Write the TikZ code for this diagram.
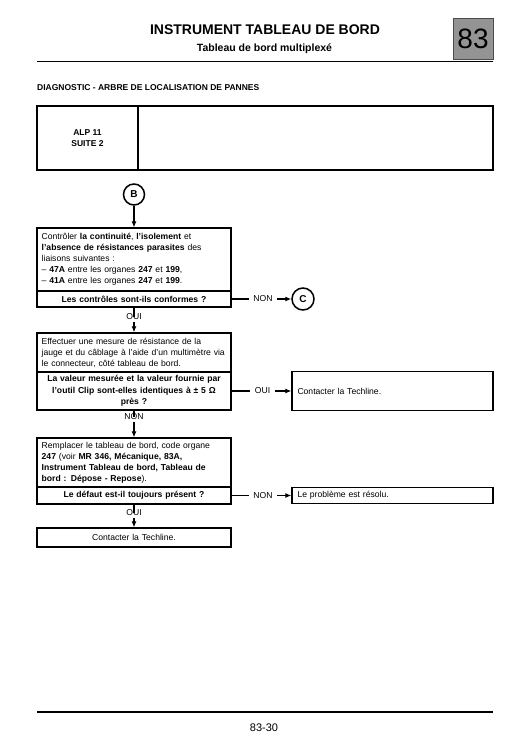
\documentclass[tikz,border=0pt]{standalone}
\usepackage{fontspec}
\setmainfont{Liberation Sans}
\usetikzlibrary{arrows.meta}
\begin{document}
\begin{tikzpicture}[x=1pt,y=-1pt,
  arr/.style={-{Latex[length=6pt,width=5pt]}, line width=1.1pt},
  link/.style={line width=1.1pt},
  boxa/.style={draw, line width=1.3pt, inner xsep=4.7pt, inner ysep=1.5pt, text width=184.6pt, align=left, font=\fontsize{8.6}{11}\selectfont},
  boxq/.style={boxa, align=center, font=\fontsize{8.6}{11.3}\selectfont\bfseries},
  boxr/.style={draw, line width=1.3pt, inner xsep=5.5pt, inner ysep=1.5pt, text width=190pt, align=left, font=\fontsize{8.6}{11}\selectfont},
  lab/.style={inner xsep=4.5pt, inner ysep=1.5pt, font=\fontsize{8.6}{11}\selectfont},
  rond/.style={draw, circle, line width=1.5pt, inner sep=0pt, font=\fontsize{10}{12}\selectfont\bfseries},
]
\useasboundingbox (0,0) rectangle (530,750);
\fill[white] (0,0) rectangle (530,750);

% header
\node[font=\fontsize{14}{16}\selectfont\bfseries] (title) at (265,30) {INSTRUMENT TABLEAU DE BORD};
\node[font=\fontsize{10.5}{12}\selectfont\bfseries] (subtitle) at (264.5,49) {Tableau de bord multiplexé};
\node[draw=black!70, fill=black!42, line width=0.8pt, minimum width=40pt, minimum height=41pt, inner sep=0pt, font=\fontsize{28}{30}\selectfont] (num) at (473,38.5) {83};
\draw[line width=1.7pt] (37,61.5) coordinate (hl) -- (493,61.5) coordinate (hr);
\node[anchor=west, inner sep=0pt, font=\fontsize{8.5}{10}\selectfont\bfseries] (diag) at (37,88) {DIAGNOSTIC - ARBRE DE LOCALISATION DE PANNES};

% ALP box
\node[draw, line width=1.3pt, minimum width=101pt, minimum height=64pt, inner sep=0pt, align=center, font=\fontsize{8.5}{10.5}\selectfont\bfseries] (alpL) at (87.5,138) {ALP 11\\SUITE 2};
\node[draw, line width=1.3pt, minimum width=355pt, minimum height=64pt, inner sep=0pt] (alpR) at (315.5,138) {};

% flow
\node[rond, minimum size=21pt] (B) at (134,194.5) {B};

\node[boxa, minimum height=63pt] (b1) at (134,259.5) {Contrôler \textbf{la continuité}, \textbf{l'isolement} et\\
\textbf{l'absence de résistances parasites} des\\
liaisons suivantes :\\
– \textbf{47A} entre les organes \textbf{247} et \textbf{199},\\
– \textbf{41A} entre les organes \textbf{247} et \textbf{199}.};
\node[boxq, minimum height=16pt] (q1) at (134,299) {Les contrôles sont-ils conformes ?};

\node[boxa, minimum height=39pt] (b2) at (134,352.5) {Effectuer une mesure de résistance de la\\
jauge et du câblage à l'aide d'un multimètre via\\
le connecteur, côté tableau de bord.};
\node[boxq, minimum height=38pt] (q2) at (134,391) {La valeur mesurée et la valeur fournie par\\
l'outil Clip sont-elles identiques à ± 5 Ω\\
près ?};

\node[boxa, minimum height=49pt] (b3) at (134,462.5) {Remplacer le tableau de bord, code organe\\
\textbf{247} (voir \textbf{MR 346, Mécanique, 83A,}\\
\textbf{Instrument Tableau de bord, Tableau de}\\
\textbf{bord : Dépose - Repose}).};
\node[boxq, minimum height=17pt] (q3) at (134,495.5) {Le défaut est-il toujours présent ?};

\node[boxa, align=center, minimum height=19pt] (b4) at (134,537.5) {Contacter la Techline.};

\node[rond, minimum size=22pt] (C) at (303,299) {C};
\node[boxr, minimum height=39pt] (r1) at (392.5,391) {Contacter la Techline.};
\node[boxr, minimum height=16pt] (r2) at (392.5,495.5) {Le problème est résolu.};

% labels
\node[lab] (oui1) at (134,317) {OUI};
\node[lab] (non2) at (134,417) {NON};
\node[lab] (oui3) at (134,513) {OUI};
\node[lab] (non1) at (263,299) {NON};
\node[lab] (ouiR) at (262.5,391) {OUI};
\node[lab] (nonR) at (263,495.5) {NON};

% connectors
\draw[arr] (B.south) -- (b1.north);
\draw[link] (q1.south) -- (oui1.center);
\draw[arr] (oui1.south) -- (b2.north);
\draw[link] (q2.south) -- (non2.center);
\draw[arr] (non2.south) -- (b3.north);
\draw[link] (q3.south) -- (oui3.center);
\draw[arr] (oui3.south) -- (b4.north);

\draw[link] (q1.east) -- (non1.west);
\draw[arr] (non1.east) -- (C.west);
\draw[link] (q2.east) -- (ouiR.west);
\draw[arr] (ouiR.east) -- (r1.west);
\draw[link] (q3.east) -- (nonR.west);
\draw[arr] (nonR.east) -- (r2.west);

% footer
\draw[line width=1.7pt] (37,712.3) coordinate (fl) -- (493,712.3) coordinate (fr);
\node[font=\fontsize{11}{13}\selectfont] (page) at (264,727.5) {83-30};
\end{tikzpicture}
\end{document}
